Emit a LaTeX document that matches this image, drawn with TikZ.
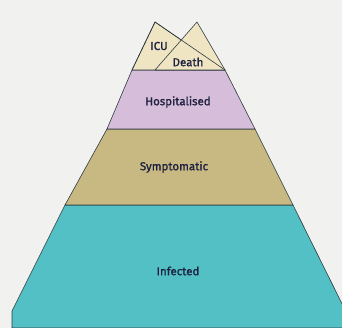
\documentclass[tikz,border=0pt]{standalone}
\usepackage{fontspec}
\setmainfont{Fira Sans}
\definecolor{bg}{HTML}{F1F1EF}
\definecolor{topc}{HTML}{EFE5C3}
\definecolor{hosp}{HTML}{D6BDDA}
\definecolor{symp}{HTML}{C8B982}
\definecolor{inf}{HTML}{52C0C4}
\definecolor{txt}{HTML}{1E2240}
\definecolor{edge}{HTML}{2E3A40}
\tikzset{
  band/.style={draw=edge, line width=0.6pt, line join=round},
  lbl/.style={text=txt, font=\fontsize{11.5}{13}\selectfont\addfontfeatures{FakeBold=1.2}, inner sep=0pt},
}
\begin{document}
\begin{tikzpicture}[x=1pt,y=-1pt]
\fill[bg] (0,0) rectangle (342,328);
\useasboundingbox (0,0) rectangle (342,328);
\begin{scope}
\clip (0,0) rectangle (342,328);
% Infected
\filldraw[band, fill=inf] (65,205) -- (293,205) -- (354,328) -- (12,328) -- (12,311) -- cycle;
% Symptomatic
\filldraw[band, fill=symp] (107,129) -- (255,129) -- (293,205) -- (65,205) -- cycle;
% Hospitalised
\filldraw[band, fill=hosp] (132,70) -- (225,70) -- (255,129) -- (107,129) -- cycle;
% ICU and Death triangles
\filldraw[band, fill=topc] (132,70) -- (155,22) -- (225,70) -- cycle;
\filldraw[band, fill=topc] (155,70) -- (197,22) -- (225,70) -- cycle;
\draw[band] (132,70) -- (155,22) -- (225,70);
\end{scope}
\node[lbl] (icu) at (159,46) {ICU};
\node[lbl] (death) at (188,62) {Death};
\node[lbl] (hosp) at (178,102) {Hospitalised};
\node[lbl] (symp) at (174,167) {Symptomatic};
\node[lbl] (inf) at (178,271) {Infected};
\end{tikzpicture}
\end{document}
